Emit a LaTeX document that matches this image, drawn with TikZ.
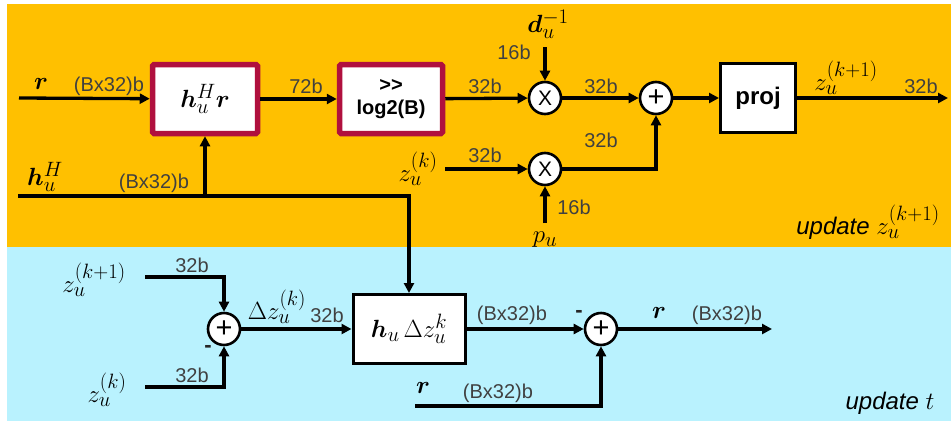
\documentclass[tikz,border=0pt]{standalone}
\usepackage{amsmath}
\usepackage{bm}
\usepackage{fontspec}
\setsansfont{Liberation Sans}
\usetikzlibrary{arrows.meta}
\DeclareMathSizes{26}{26}{20}{15}
\DeclareMathSizes{28}{28}{20}{15}
\DeclareMathSizes{24}{24}{19}{14}
\definecolor{bgorange}{RGB}{255,192,0}
\definecolor{bgblue}{RGB}{185,242,254}
\definecolor{crim}{RGB}{176,16,62}
\definecolor{lblgray}{RGB}{64,64,64}
\tikzset{
  wire/.style={line width=3.3pt,-{Triangle[length=10pt,width=10pt]}},
  lbl/.style={font=\fontsize{20}{20}\sffamily,text=lblgray,inner sep=0pt},
  minus/.style={font=\fontsize{22}{22}\sffamily\bfseries,text=black!85,inner sep=0pt},
  mth/.style={font=\fontsize{26}{26}\selectfont,inner sep=0pt},
  circ/.style={circle,draw,line width=2.6pt,fill=white,minimum size=32pt,inner sep=0pt},
  pluscirc/.style={circ,font=\fontsize{29}{29}\sffamily},
  redbox/.style={draw=crim,line width=5.5pt,fill=white,rounded corners=1.5pt,inner sep=0pt},
  blkbox/.style={draw,line width=3pt,fill=white,inner sep=0pt},
  updlbl/.style={font=\fontsize{24}{24}\sffamily\itshape,inner sep=0pt}
}
\begin{document}
\begin{tikzpicture}[x=1pt,y=-1pt]
\useasboundingbox (0,0) rectangle (951,421);
\fill[white] (0,0) rectangle (951,421);
\fill[bgorange] (7,4) rectangle (951,247);
\fill[bgblue] (7,247) rectangle (951,421);

% blocks
\node[redbox,minimum width=105pt,minimum height=69pt,font=\fontsize{26}{26}\selectfont] (hr) at (205,99) {$\bm{h}_u^H\bm{r}$};
\node[redbox,minimum width=103pt,minimum height=69pt,align=center,font=\fontsize{20}{23}\sffamily\bfseries] (sh) at (391,99) {>\kern0pt>\\log2(B)};
\node[circ,font=\fontsize{21}{21}\sffamily] (m1) at (545,98) {X};
\node[circ,font=\fontsize{21}{21}\sffamily] (m2) at (545,169) {X};
\node[pluscirc] (a1) at (656,98) {\raisebox{-1.5pt}{+}};
\node[blkbox,minimum width=75pt,minimum height=69pt,font=\fontsize{24}{24}\sffamily\bfseries] (proj) at (758,98) {proj};
\node[pluscirc] (a2) at (224,329) {\raisebox{-1.5pt}{+}};
\node[blkbox,minimum width=112pt,minimum height=69pt,font=\fontsize{26}{26}\selectfont] (hz) at (409,329) {$\bm{h}_u\,\Delta z_u^k$};
\node[pluscirc] (a3) at (601,329) {\raisebox{-1.5pt}{+}};

% free ends
\coordinate (rin) at (19,98);
\coordinate (hin) at (18,196);
\coordinate (hb) at (205,196);
\coordinate (din) at (545,47);
\coordinate (zin) at (445,169);
\coordinate (pin) at (545,223);
\coordinate (zout) at (948,98);
\coordinate (z1in) at (145,277);
\coordinate (z0in) at (145,387);
\coordinate (rout) at (772,329);
\coordinate (r2in) at (415,406);

% connectors
\draw[wire] (rin) -- (hr);
\draw[wire] (hr) -- (sh);
\draw[wire] (sh) -- (m1);
\draw[wire] (din) -- (m1);
\draw[wire] (m1) -- (a1);
\draw[wire] (zin) -- (m2);
\draw[wire] (pin) -- (m2);
\draw[wire] (m2) -| (a1);
\draw[wire] (a1) -- (proj);
\draw[wire] (proj) -- (zout);
\draw[wire] (hin) -| (hz);
\draw[wire] (hb) -- (hr);
\draw[wire] (z1in) -| (a2);
\draw[wire] (z0in) -| (a2);
\draw[wire] (a2) -- (hz);
\draw[wire] (hz) -- (a3);
\draw[wire] (r2in) -| (a3);
\draw[wire] (a3) -- (rout);

% labels upper
\node[mth] (lr) at (41,84) {\fontsize{28}{28}\selectfont$\bm{r}$};
\node[lbl] (l1) at (109,86) {(Bx32)b};
\node[lbl] (l2) at (306,86) {72b};
\node[lbl] (l3) at (485,86) {32b};
\node[lbl] (l4) at (514,52) {16b};
\node[mth] (ld) at (548,24) {$\bm{d}_u^{-1}$};
\node[lbl] (l5) at (601,86) {32b};
\node[lbl] (l6) at (601,140) {32b};
\node[lbl] (l7) at (485,155) {32b};
\node[mth] (lz) at (418,169) {$z_u^{(k)}$};
\node[lbl] (l8) at (574,207) {16b};
\node[mth] (lp) at (545,240) {$p_u$};
\node[mth] (lz1) at (846,78) {$z_u^{(k+1)}$};
\node[lbl] (l9) at (921,86) {32b};
\node[updlbl] (u1) at (868,222) {update {\fontsize{26}{26}\selectfont$z_u^{(k+1)}$}};
\node[mth] (lh) at (45,177) {$\bm{h}_u^H$};
\node[lbl] (l10) at (154,183) {(Bx32)b};

% labels lower
\node[mth] (lz2) at (94,280) {$z_u^{(k+1)}$};
\node[lbl] (l11) at (192,265) {32b};
\node[minus] (m1s) at (208,349) {-};
\node[mth] (lz3) at (107,390) {$z_u^{(k)}$};
\node[lbl] (l12) at (192,375) {32b};
\node[mth] (ldz) at (277,307) {$\Delta z_u^{(k)}$};
\node[lbl] (l13) at (327,315) {32b};
\node[mth] (lr2) at (423,388) {\fontsize{28}{28}\selectfont$\bm{r}$};
\node[lbl] (l14) at (512,315) {(Bx32)b};
\node[minus] (m2s) at (579,314) {-};
\node[mth] (lr3) at (659,313) {\fontsize{28}{28}\selectfont$\bm{r}$};
\node[lbl] (l15) at (727,315) {(Bx32)b};
\node[lbl] (l16) at (498,393) {(Bx32)b};
\node[updlbl] (u2) at (890,403) {update {\fontsize{26}{26}\selectfont$t$}};
\end{tikzpicture}
\end{document}
